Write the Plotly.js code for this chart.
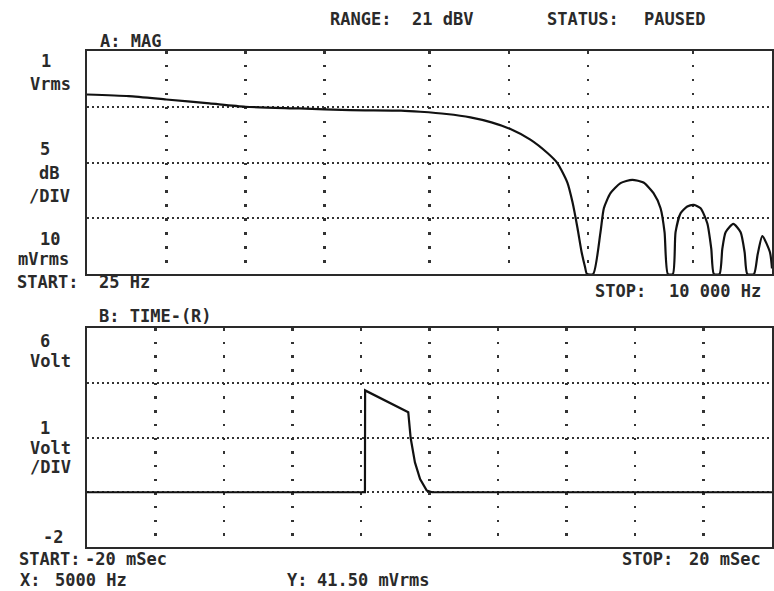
<!DOCTYPE html>
<html>
<head>
<meta charset="utf-8">
<script src="https://cdn.plot.ly/plotly-3.0.1.min.js"></script>
<style>html,body{margin:0;padding:0;background:#fff;}#chart{width:774px;height:591px;}</style>
</head>
<body>
<div id="chart"></div>
<script>
// ---- Data ----
// Panel A: magnitude spectrum (frequency in Hz, level in dBV)
const freqHz = [25,36,50,73,100,160,250,390,461,580,715,860,1015,1208,1403,1530,1670,1746,1825,1890,1948,1982,
                2093,2231,2298,2435,2658,2945,3250,3548,3773,3907,4022,
                4202,4302,4495,4765,5050,5355,5678,5880,6015,
                6320,6475,6665,7130,7600,7870,8058,
                8542,8820,9190,9822,10000];
const magDb = [-7.8,-8.1,-8.7,-9.4,-10.0,-10.3,-10.6,-10.7,-10.9,-11.3,-11.9,-12.8,-14.0,-15.9,-18.3,-20.1,-23.6,-27.1,-31.8,-36.0,-38.7,-40,
               -40,-32.5,-28.2,-25.5,-23.7,-23.1,-23.6,-25.5,-28.2,-32.5,-40,
               -40,-32.5,-29.1,-27.9,-27.6,-28.2,-30.9,-35.5,-40,
               -40,-35.5,-32.5,-31.0,-32.5,-36.1,-40,
               -40,-36.5,-33.2,-36.1,-39];
// Panel B: time record (ms, volts)
const timeMs = [-20,-3.77,-3.76,-1.24,-1.10,-0.85,-0.55,-0.16,0.15,20];
const volts  = [0,0,3.72,2.92,1.98,1.09,0.48,0.06,0,0];
// Grid positions
const freqGrid = [50,100,200,500,1000,2000,5000];
const dbGrid = [-30,-20,-10];
const timeGrid = [-16,-12,-8,-4,0,4,8,12,16];
const voltGrid = [0,2,4];

// ---- Layout helpers (pixel -> paper) ----
const L = 87, R = 772, T = 51, B = 547;
const W = R - L, H = B - T;
const px = x => (x - L) / W;
const py = y => (B - y) / H;

const ink = '#2a2a2a';
const FONT = {family: '"DejaVu Sans Mono", monospace', size: 17, color: ink, weight: 'bold'};

function lab(text, x, y, anchor) {
  return {text: text, xref: 'paper', yref: 'paper', x: px(x), y: py(y),
          xanchor: anchor || 'left', yanchor: 'middle', showarrow: false, font: FONT};
}

const annotations = [
  lab('RANGE:', 328, 19), lab('21 dBV', 410, 19),
  lab('STATUS:', 545, 19), lab('PAUSED', 642, 19),
  lab('A: MAG', 98, 41),
  lab('1', 46, 61, 'center'), lab('Vrms', 50, 84, 'center'),
  lab('5', 45, 149, 'center'), lab('dB', 49, 173, 'center'), lab('/DIV', 49, 196, 'center'),
  lab('10', 50, 239, 'center'), lab('mVrms', 43, 259, 'center'),
  lab('START:', 15, 282), lab('25 Hz', 97, 282),
  lab('STOP:', 593, 291), lab('10 000 Hz', 667, 291),
  lab('B: TIME-(R)', 97, 316),
  lab('6', 45, 341, 'center'), lab('Volt', 50, 361, 'center'),
  lab('1', 45, 428, 'center'), lab('Volt', 50, 448, 'center'), lab('/DIV', 50, 467, 'center'),
  lab('-2', 53, 537, 'center'),
  lab('START:', 17, 559), lab('-20 mSec', 83, 559),
  lab('STOP:', 620, 559), lab('20 mSec', 687, 559),
  lab('X:', 18, 580), lab('5000 Hz', 53, 580),
  lab('Y:', 285, 580), lab('41.50 mVrms', 315, 580)
];

const topTop = 51, topBot = 274, botTop = 328, botBot = 547;

const traces = [
  {x: freqHz, y: magDb, xaxis: 'x', yaxis: 'y', mode: 'lines', type: 'scatter',
   line: {color: '#111', width: 2.2, shape: 'spline', smoothing: 0.6}, hoverinfo: 'skip'},
  {x: timeMs, y: volts, xaxis: 'x2', yaxis: 'y2', mode: 'lines', type: 'scatter',
   line: {color: '#111', width: 2.2}, hoverinfo: 'skip'}
];

const vDash = n => { const seg = n / 16; return '2.5px,' + (seg - 2.5).toFixed(2) + 'px'; };

const axBase = {showline: true, mirror: true, linecolor: ink, linewidth: 2,
                ticks: '', showticklabels: false, zeroline: false,
                gridcolor: '#333', gridwidth: 2.5, fixedrange: true};

const layout = {
  width: 774, height: 591,
  margin: {l: L, r: 774 - R, t: T, b: 591 - B, pad: 0},
  paper_bgcolor: '#fff', plot_bgcolor: '#fff',
  showlegend: false,
  xaxis: Object.assign({}, axBase, {type: 'log', range: [Math.log10(25), Math.log10(10000)],
          domain: [0, 1], anchor: 'y', tickmode: 'array', tickvals: freqGrid,
          griddash: vDash(topBot - topTop)}),
  yaxis: Object.assign({}, axBase, {range: [-40, 0], domain: [py(topBot), py(topTop)], anchor: 'x',
          tickmode: 'array', tickvals: dbGrid, griddash: '2px,3px', gridwidth: 2}),
  xaxis2: Object.assign({}, axBase, {range: [-20, 20], domain: [0, 1], anchor: 'y2',
          tickmode: 'array', tickvals: timeGrid, griddash: vDash(botBot - botTop)}),
  yaxis2: Object.assign({}, axBase, {range: [-2, 6], domain: [py(botBot), py(botTop)], anchor: 'x2',
          tickmode: 'array', tickvals: voltGrid, griddash: '2px,3px', gridwidth: 2}),
  annotations: annotations
};

Plotly.newPlot('chart', traces, layout, {staticPlot: true, displayModeBar: false});
</script>
</body>
</html>
